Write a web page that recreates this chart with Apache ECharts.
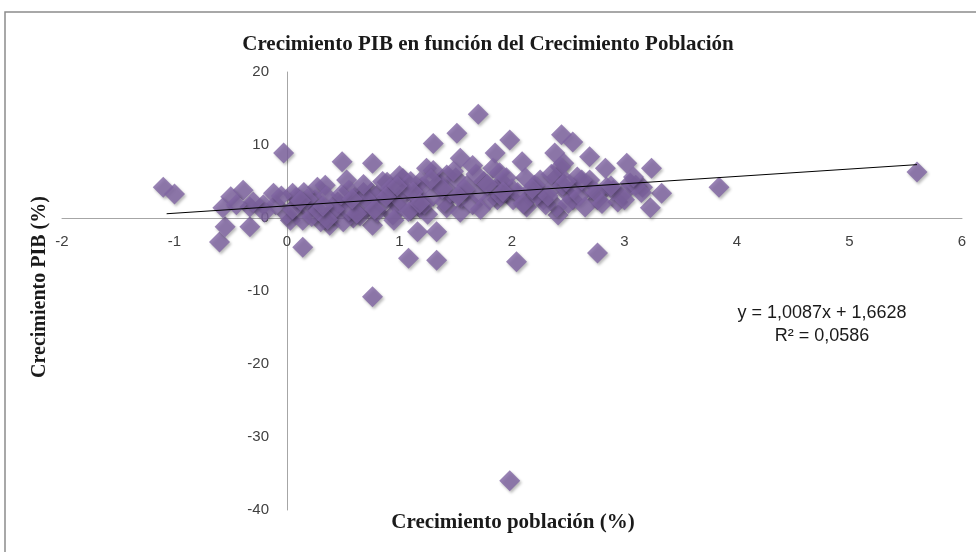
<!DOCTYPE html>
<html>
<head>
<meta charset="utf-8">
<script src="https://cdn.jsdelivr.net/npm/echarts@6/dist/echarts.min.js"></script>
<style>html,body{margin:0;padding:0;background:#fff}#c{width:976px;height:552px}</style>
</head>
<body>
<div id="c"></div>
<script>
var chartTitle = 'Crecimiento PIB en función del Crecimiento Población';
var xName = 'Crecimiento población (%)';
var yName = 'Crecimiento PIB (%)';
var eqLine1 = 'y = 1,0087x + 1,6628';
var eqLine2 = 'R² = 0,0586';
var slope = 1.0087, intercept = 1.6628;
var trendX = [-1.07, 5.6];

var popGrowth = [
 -1.1,-1.0,-0.6,-0.55,-0.33,0.14,-0.03,-0.39,-0.5,-0.57,-0.12,0.05,0.27,-0.33,-0.21,0.03,0.14,
 1.70,1.51,1.30,0.49,0.76,0.53,0.34,0.68,0.89,1.03,1.24,1.54,1.65,1.85,1.83,1.42,1.18,0.80,0.98,1.18,1.42,1.54,0.47,0.59,0.38,0.76,0.94,1.16,1.33,1.08,1.33,0.76,
 2.44,2.54,1.98,2.09,2.12,2.38,2.46,2.69,2.83,3.02,3.24,3.33,3.23,2.76,2.94,2.41,1.89,1.92,2.25,2.40,2.58,2.69,2.84,3.05,3.16,2.16,2.28,2.54,2.01,1.87,2.04,2.76,2.43,2.34,2.49,2.40,2.13,2.99,
 1.98,3.84,5.6,
 0.10,0.20,0.25,0.35,0.40,0.45,0.50,0.55,0.60,0.65,0.70,0.75,0.80,0.85,0.90,0.95,1.00,1.05,1.10,1.15,1.20,1.25,1.30,1.35,1.40,1.45,1.50,1.55,1.60,1.65,1.70,1.75,1.80,1.85,1.90,1.95,2.00,2.05,2.10,2.20,2.30,2.35,2.45,2.50,2.55,2.60,2.65,2.70,2.75,2.80,2.90,3.00,3.10,3.15,
 0.00,-0.10,-0.20,-0.30,-0.45,0.05,0.15,0.30,0.55,0.85,1.00,1.10,1.30,0.22,0.42,0.62,0.72,0.92,1.12,1.22,1.38,1.48,1.58,1.68,1.78,2.22,2.62,2.88,3.08,0.18,0.08,
 0.28,0.48,0.68,0.88,1.08,1.28,0.36,0.58,0.78,0.98,1.18,1.52,1.72,1.92,2.18,2.32,2.48,-0.05,0.12,0.32
];
var gdpGrowth = [
 4.2,3.3,-3.3,-1.2,-1.2,-4.0,8.9,3.8,2.9,1.4,3.4,3.4,4.2,1.5,1.8,-0.3,-0.3,
 14.2,11.6,10.2,7.7,7.5,5.2,4.5,3.5,4.9,5.4,6.8,8.2,7.2,8.9,6.8,5.9,4.9,3.1,1.8,1.4,1.4,0.8,1.8,0.0,-1.0,-1.0,0.4,-1.9,-1.9,-5.5,-5.8,-10.8,
 11.4,10.4,10.7,7.7,5.5,8.9,7.5,8.4,6.8,7.5,6.8,3.4,1.4,2.5,2.2,0.4,6.2,4.8,5.2,5.6,5.6,5.2,4.2,4.8,4.2,2.9,2.5,2.5,2.5,2.5,-6.0,-4.8,7.0,3.8,3.4,1.5,1.5,3.4,
 -36.0,4.2,6.3,
 2.0,1.2,2.5,3.0,0.5,2.2,-0.5,1.0,2.8,0.3,1.5,3.5,0.8,2.0,3.2,-0.3,2.5,3.8,1.0,2.8,4.2,0.5,3.0,4.8,2.2,3.5,5.5,2.8,4.5,1.8,3.2,5.0,2.5,4.0,3.0,5.5,4.0,3.5,2.0,4.5,1.8,6.0,4.5,2.0,4.0,3.0,1.5,4.0,3.5,2.0,3.8,2.5,4.5,3.5,
 0.5,1.8,0.8,2.2,1.8,1.2,3.5,-0.5,3.8,5.0,5.8,5.0,6.5,0.2,1.2,0.6,2.4,4.1,3.6,1.9,4.0,6.4,3.9,6.0,4.6,3.1,5.2,4.4,5.6,2.6,2.8,
 1.0,3.2,4.6,2.9,0.9,5.3,-0.2,2.6,1.2,4.4,2.0,3.0,1.2,3.6,4.0,3.0,5.0,3.0,2.4,1.6
];

var scatterData = popGrowth.map(function (x, i) { return [x, gdpGrowth[i]]; });
var trendData = trendX.map(function (x) { return [x, slope * x + intercept]; });

var chart = echarts.init(document.getElementById('c'));
chart.setOption({
  animation: false,
  backgroundColor: '#ffffff',
  title: {
    text: chartTitle, left: 'center', top: 29,
    textStyle: { fontFamily: 'Liberation Serif', fontWeight: 'bold', fontSize: 21, color: '#1a1a1a' }
  },
  grid: { left: 62, right: 14, top: 72, bottom: 42 },
  xAxis: {
    type: 'value', min: -2, max: 6, interval: 1,
    position: 'bottom', offset: -292,
    axisLine: { onZero: false, lineStyle: { color: '#a6a6a6', width: 1 } },
    axisTick: { show: false },
    splitLine: { show: false },
    axisLabel: { margin: 16, fontFamily: 'Liberation Sans', fontSize: 15, color: '#404040' }
  },
  yAxis: {
    type: 'value', min: -40, max: 20, interval: 10,
    position: 'left', offset: -225,
    axisLine: { show: true, onZero: false, lineStyle: { color: '#a6a6a6', width: 1 } },
    axisTick: { show: false },
    splitLine: { show: false },
    axisLabel: { margin: 18, fontFamily: 'Liberation Sans', fontSize: 15, color: '#404040' }
  },
  series: [
    {
      type: 'scatter', data: scatterData, symbol: 'diamond', symbolSize: 21,
      itemStyle: { color: '#8064A2', shadowColor: 'rgba(0,0,0,0.35)', shadowBlur: 3, shadowOffsetX: 1.5, shadowOffsetY: 2 },
      z: 2
    },
    {
      type: 'line', data: trendData, symbol: 'none',
      lineStyle: { color: '#000000', width: 1 }, z: 3, silent: true
    }
  ],
  graphic: [
    { type: 'rect', shape: { x: 5, y: 12, width: 985, height: 560 }, style: { fill: 'none', stroke: '#8c8c8c', lineWidth: 1.5 }, silent: true },
    { type: 'text', x: 513, y: 523, style: { text: xName, align: 'center', verticalAlign: 'middle', font: 'bold 21px "Liberation Serif"', fill: '#1a1a1a' } },
    { type: 'text', x: 40, y: 287, rotation: Math.PI / 2, style: { text: yName, align: 'center', verticalAlign: 'middle', font: 'bold 20px "Liberation Serif"', fill: '#1a1a1a' } },
    { type: 'text', x: 822, y: 313, style: { text: eqLine1, align: 'center', verticalAlign: 'middle', font: '18px "Liberation Sans"', fill: '#1a1a1a' } },
    { type: 'text', x: 822, y: 336, style: { text: eqLine2, align: 'center', verticalAlign: 'middle', font: '18px "Liberation Sans"', fill: '#1a1a1a' } }
  ]
});
</script>
</body>
</html>
